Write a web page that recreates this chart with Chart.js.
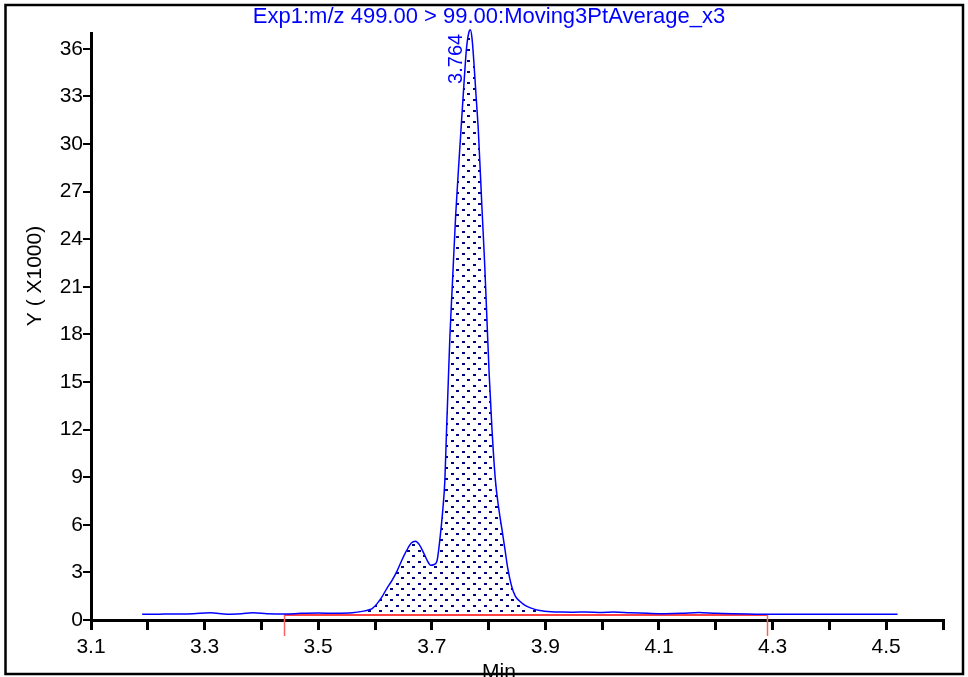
<!DOCTYPE html>
<html>
<head>
<meta charset="utf-8">
<title>Chromatogram</title>
<script src="https://cdn.jsdelivr.net/npm/chart.js@4.4.1/dist/chart.umd.min.js"></script>
<style>
  html, body { margin: 0; padding: 0; background: #fff; }
  #wrap { position: relative; width: 968px; height: 677px; }
</style>
</head>
<body>
<div id="wrap"><canvas id="chrom"></canvas></div>
<script>
// retention time (min) and intensity (x1000)
const traceTimes = [
  3.19, 3.22, 3.25, 3.28, 3.31, 3.34, 3.365, 3.385, 3.41, 3.44, 3.47, 3.50, 3.53, 3.56, 3.58,
  3.59, 3.595, 3.603, 3.612, 3.621, 3.630, 3.639, 3.647, 3.656, 3.664, 3.671, 3.678, 3.686,
  3.692, 3.698, 3.704, 3.709, 3.714, 3.719, 3.723, 3.726, 3.729, 3.732, 3.736, 3.742, 3.748,
  3.753, 3.757, 3.761, 3.765, 3.768, 3.771, 3.774, 3.778, 3.782, 3.788, 3.793, 3.797, 3.801,
  3.806, 3.812, 3.818, 3.824, 3.829, 3.834, 3.840, 3.847, 3.856, 3.865, 3.875, 3.89, 3.91,
  3.93, 3.95, 3.97, 4.00, 4.02, 4.05, 4.08, 4.11, 4.14, 4.17, 4.20, 4.23, 4.27, 4.29, 4.30,
  4.35, 4.40, 4.45, 4.52
];
const traceValues = [
  0.36, 0.37, 0.38, 0.40, 0.45, 0.37, 0.40, 0.45, 0.40, 0.38, 0.42, 0.44, 0.42, 0.45, 0.56,
  0.65, 0.72, 1.0, 1.44, 2.0, 2.5, 3.1, 3.75, 4.4, 4.85, 4.96, 4.75, 4.2,
  3.75, 3.45, 3.5, 3.7, 5.0, 6.8, 8.8, 12.0, 15.0, 18.0, 21.0, 25.5, 29.0,
  31.8, 34.0, 36.0, 37.0, 37.2, 36.6, 35.2, 33.0, 30.8, 26.2, 22.5, 19.0, 15.5,
  12.0, 8.8, 7.0, 5.6, 4.4, 3.2, 2.2, 1.5, 1.15, 0.9, 0.75, 0.6, 0.52,
  0.5, 0.49, 0.51, 0.48, 0.5, 0.45, 0.42, 0.40, 0.42, 0.48, 0.42, 0.39, 0.37, 0.36, 0.36,
  0.36, 0.36, 0.36, 0.36
];
// integration baseline
const baselineTimes = [3.44, 4.29];
const baselineLevel = 0.32;
// labels
const peakLabel = '3.764';
const xTickLabels = ['3.1', '3.3', '3.5', '3.7', '3.9', '4.1', '4.3', '4.5'];
const chartTitle = 'Exp1:m/z 499.00 > 99.00:Moving3PtAverage_x3';
const yTitle = 'Y ( X1000)';
const xTitle = 'Min';

const FONT = '"Liberation Sans", Arial, sans-serif';
const BLUE = '#0000ff';

// dotted fill used for the integrated area
function makeDots() {
  const c = document.createElement('canvas');
  c.width = 11; c.height = 11;
  const g = c.getContext('2d');
  g.fillStyle = '#000080';
  g.fillRect(0, 0, 3, 2);
  g.fillRect(5, 5, 3, 2);
  return g.createPattern(c, 'repeat');
}

const tracePoints = traceTimes.map((t, i) => ({ x: t, y: traceValues[i] }));
const areaPoints = tracePoints.filter(p => p.x >= baselineTimes[0] && p.x <= baselineTimes[1]);
const baselinePoints = baselineTimes.map(t => ({ x: t, y: baselineLevel }));

const decor = {
  id: 'decor',
  afterDraw(chart) {
    const { ctx, scales: { x, y } } = chart;
    ctx.save();

    // red drop lines at the baseline ends
    ctx.strokeStyle = '#ff6060';
    ctx.lineWidth = 1.5;
    baselineTimes.forEach(t => {
      const px = Math.round(x.getPixelForValue(t)) + 0.5;
      ctx.beginPath();
      ctx.moveTo(px, y.getPixelForValue(baselineLevel));
      ctx.lineTo(px, y.bottom + 16);
      ctx.stroke();
    });

    // title
    ctx.fillStyle = BLUE;
    ctx.font = '22px ' + FONT;
    ctx.textAlign = 'center';
    ctx.textBaseline = 'middle';
    ctx.fillText(chartTitle, 489, 17);

    // peak retention time, rotated
    const pk = traceValues.indexOf(Math.max(...traceValues));
    ctx.save();
    ctx.translate(x.getPixelForValue(traceTimes[pk]) - 14, y.getPixelForValue(traceValues[pk]) + 4);
    ctx.rotate(-Math.PI / 2);
    ctx.font = '20px ' + FONT;
    ctx.textAlign = 'right';
    ctx.fillText(peakLabel, 0, 0);
    ctx.restore();

    // axis titles
    ctx.fillStyle = '#000';
    ctx.font = '21px ' + FONT;
    ctx.save();
    ctx.translate(35, 276);
    ctx.rotate(-Math.PI / 2);
    ctx.fillText(yTitle, 0, 0);
    ctx.restore();
    ctx.textBaseline = 'alphabetic';
    ctx.fillText(xTitle, 499, 678);

    // frame
    ctx.strokeStyle = '#000';
    ctx.lineWidth = 2.5;
    ctx.strokeRect(5.5, 5, 957.5, 669);
    ctx.restore();
  }
};

new Chart(document.getElementById('chrom'), {
  type: 'line',
  data: {
    datasets: [
      {
        data: tracePoints,
        borderColor: BLUE,
        borderWidth: 1.5,
        pointRadius: 0,
        cubicInterpolationMode: 'monotone',
        fill: false,
        clip: false,
      },
      {
        data: baselinePoints,
        borderColor: '#ff0000',
        borderWidth: 1.5,
        pointRadius: 0,
        fill: false,
      },
      {
        data: areaPoints,
        borderWidth: 0,
        pointRadius: 0,
        cubicInterpolationMode: 'monotone',
        backgroundColor: makeDots(),
        fill: { value: baselineLevel },
        clip: false,
      },
    ],
  },
  options: {
    responsive: true,
    maintainAspectRatio: false,
    animation: false,
    layout: { padding: { top: 33, right: 25, left: 0, bottom: 0 } },
    plugins: {
      legend: { display: false },
      tooltip: { enabled: false },
      title: { display: false },
    },
    scales: {
      x: {
        type: 'linear',
        min: 3.1,
        max: 4.6,
        border: { color: '#000', width: 3 },
        grid: { drawOnChartArea: false, drawTicks: true, tickLength: 10, color: '#000', lineWidth: 3 },
        ticks: {
          stepSize: 0.1,
          autoSkip: false,
          maxRotation: 0,
          padding: 5,
          color: '#000',
          font: { family: FONT, size: 21 },
          callback: v => {
            const s = v.toFixed(1);
            return xTickLabels.includes(s) ? s : '';
          },
        },
        afterFit: s => { s.height = 57; },
      },
      y: {
        min: 0,
        max: 37,
        border: { color: '#000', width: 3 },
        grid: { drawOnChartArea: false, drawTicks: true, tickLength: 8, color: '#000', lineWidth: 2 },
        ticks: {
          stepSize: 3,
          includeBounds: false,
          padding: 0,
          color: '#000',
          font: { family: FONT, size: 21 },
        },
        afterFit: s => { s.width = 91; },
      },
    },
  },
  plugins: [decor],
});
</script>
</body>
</html>
